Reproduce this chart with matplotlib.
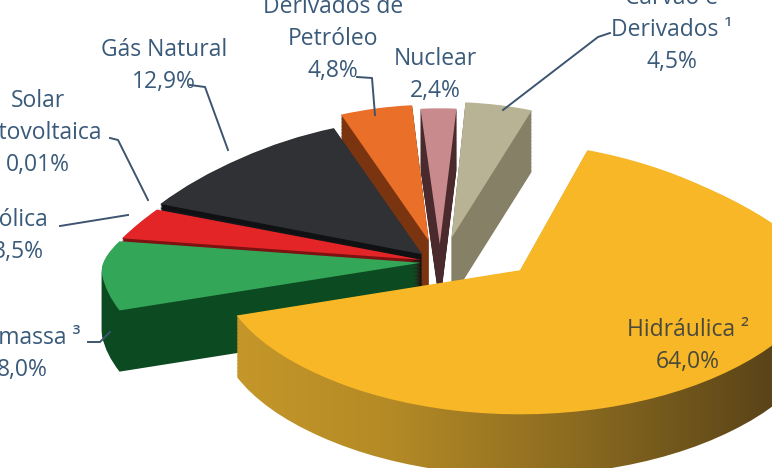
import numpy as np
import matplotlib.pyplot as plt
from matplotlib.transforms import Transform
from matplotlib.colors import LinearSegmentedColormap

plt.rcParams['font.family'] = ['Open Sans', 'DejaVu Sans']

# dados (matriz elétrica)
fontes = ['Carvão e\nDerivados ¹', 'Hidráulica ²', 'Biomassa ³', 'Eólica',
          'Solar\nFotovoltaica', 'Gás Natural', 'Derivados de\nPetróleo', 'Nuclear']
valores = [4.5, 64.0, 8.0, 3.5, 0.01, 12.9, 4.8, 2.4]
rotulos_pct = ['4,5%', '64,0%', '8,0%', '3,5%', '0,01%', '12,9%', '4,8%', '2,4%']

# estilo
cores_topo = ['#b8b394', '#f7b726', '#34a657', '#e42528', '#3b5f80', '#2f3134', '#ea6f28', '#c98a8e']
cores_lado = ['#858066', '#a27a22', '#0c4a22', '#7c1212', '#24394d', '#101113', '#7a3410', '#4a2a2c']
explode = [0.18, 0.0, 0.06, 0.06, 0.06, 0.08, 0.16, 0.13]
centro_hidraulica = (0.25, -0.06)   # deslocamento próprio da fatia grande
raio_hidraulica = 0.94
inicio = 86
degrade_hidraulica = LinearSegmentedColormap.from_list(
    'lado_hid', ['#c99a2a', '#b48a26', '#8a6a20', '#5a4418'])

# posição dos rótulos em pixels (centro do bloco)
pos_rotulos = [(672, 30), (688, 346), (22, 354), (18, 236), (38, 133), (164, 66), (333, 39), (435, 75)]
linhas_guia = [
    [(610, 33), (598, 37), (503, 110)],
    None,
    [(88, 342), (100, 342), (110, 332)],
    [(60, 226), (128, 215)],
    [(110, 138), (118, 140), (148, 200)],
    [(190, 85), (205, 87), (228, 150)],
    [(357, 77), (372, 78), (375, 115)],
    None,
]

W, H = 772, 468
cx, cy, rx, ry = 440, 262, 320, 136


def px(x, y):
    return (x - cx) / rx, (cy - y) / ry


class Perspectiva(Transform):
    """encolhe o fundo da pizza, amplia a frente e desloca para baixo (espessura)"""
    input_dims = output_dims = 2
    is_separable = False

    def __init__(self, k, m, desloc=0.0):
        super().__init__()
        self.k = k
        self.m = m
        self.desloc = desloc

    def transform_non_affine(self, values):
        xy = np.asarray(values, dtype=float)
        x, y = xy[:, 0], xy[:, 1]
        f = 1.0 / (1.0 + self.k * np.clip(y, 0, None))
        g = 1.0 + self.m * np.clip(-y, 0, None)
        return np.column_stack([x * f, y * g - self.desloc])


fig = plt.figure(figsize=(W / 100, H / 100), dpi=100)
ax = fig.add_axes([0, 0, 1, 1])

k, m = 0.3, 0.12
profundidade = 0.45
camadas = list(np.linspace(profundidade, 0.005, 45)) + [0.0]
ext = [px(200, 0)[0], px(772, 0)[0], px(0, 468)[1], px(0, 0)[1]]
grad = np.linspace(0, 1, 256).reshape(1, -1)
for n, off in enumerate(camadas):
    topo = off == 0.0
    cores = cores_topo if topo else cores_lado
    fatias, _ = ax.pie(valores, explode=explode, colors=cores, startangle=inicio,
                       counterclock=False, wedgeprops=dict(linewidth=0))
    fatias[1].set_center(centro_hidraulica)
    fatias[1].set_radius(raio_hidraulica)
    for w in fatias:
        w.set_transform(Perspectiva(k, m, off) + ax.transData)
        w.set_zorder(1 + n * 0.01)
    if not topo:
        fatias[1].set_visible(False)
        im = ax.imshow(grad, cmap=degrade_hidraulica, extent=ext, aspect='auto',
                       zorder=1 + n * 0.01 + 0.001, interpolation='bilinear')
        im.set_clip_path(fatias[1])

ax.set_aspect('auto')
ax.set_xlim(-cx / rx, (W - cx) / rx)
ax.set_ylim(-(H - cy) / ry, cy / ry)
ax.axis('off')

for i, nome in enumerate(fontes):
    x, y = px(*pos_rotulos[i])
    cor = '#4a4a3c' if i == 1 else '#3a5a7a'
    ax.text(x, y, nome + '\n' + rotulos_pct[i], ha='center', va='center',
            fontsize=16.5, color=cor, linespacing=1.45, clip_on=False, zorder=5)
    if linhas_guia[i]:
        pts = [px(a, b) for a, b in linhas_guia[i]]
        ax.plot([p[0] for p in pts], [p[1] for p in pts], color='#3d5570', lw=1.4,
                clip_on=False, zorder=5)

fig.savefig('out.png', dpi=100)
